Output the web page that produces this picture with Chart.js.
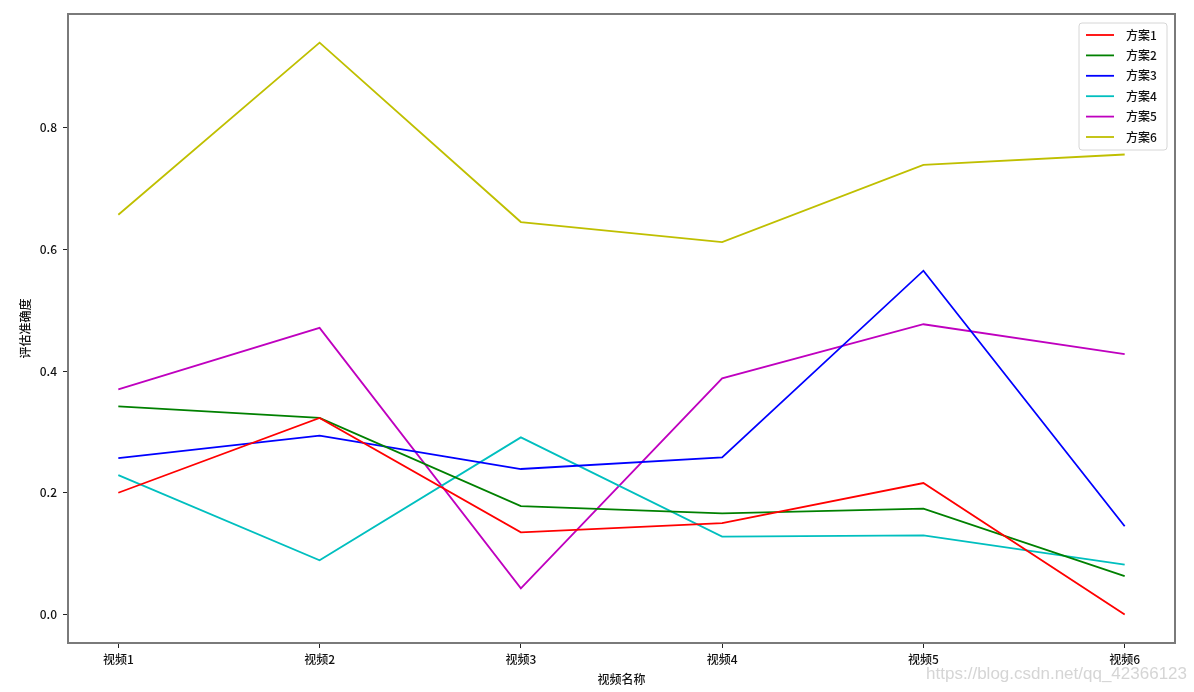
<!DOCTYPE html>
<html>
<head>
<meta charset="utf-8">
<script src="https://cdn.jsdelivr.net/npm/chart.js@4"></script>
<style>
  body { margin: 0; background: #fff; }
  canvas { display: block; }
</style>
</head>
<body>
<canvas id="accuracyChart" width="1194" height="692"></canvas>
<script>
const ctx = document.getElementById('accuracyChart');

const videoLabels = ["视频1", "视频2", "视频3", "视频4", "视频5", "视频6"]
const yTicks = [0.0, 0.2, 0.4, 0.6, 0.8]

const plan1 = [0.200, 0.323, 0.135, 0.150, 0.216, 0.000]
const plan2 = [0.342, 0.323, 0.178, 0.166, 0.174, 0.063]
const plan3 = [0.257, 0.294, 0.239, 0.258, 0.565, 0.145]
const plan4 = [0.229, 0.089, 0.291, 0.128, 0.130, 0.082]
const plan5 = [0.370, 0.471, 0.043, 0.388, 0.477, 0.428]
const plan6 = [0.657, 0.940, 0.645, 0.612, 0.739, 0.756]

const planNames = ["方案1", "方案2", "方案3", "方案4", "方案5", "方案6"]
const planValues = [plan1, plan2, plan3, plan4, plan5, plan6]
const planColors = ["#ff0000", "#008000", "#0000ff", "#00bfbf", "#bf00bf", "#bfbf00"]

const FONT = "'Noto Sans CJK SC', 'DejaVu Sans', sans-serif"

const datasets = planNames.map((name, i) => {return {
    label: name,
    borderColor: planColors[i],
    backgroundColor: planColors[i],
    borderWidth: 1.8,
    pointRadius: 0,
    tension: 0,
    data: planValues[i].map((v, j) => {return {x: j, y: v}})
}})

// gray frame round the plot + legend box in the upper right + watermark
const framePlugin = {
    id: 'frame',
    afterDraw(chart) {
        const c = chart.ctx
        const a = chart.chartArea
        c.save()
        c.strokeStyle = '#7a7a7a'
        c.lineWidth = 2
        c.strokeRect(a.left, a.top, a.right - a.left, a.bottom - a.top)

        // legend
        const boxR = a.right - 8, boxT = a.top + 9
        const boxW = 88, boxH = 127
        const boxL = boxR - boxW
        c.fillStyle = 'rgba(255,255,255,0.8)'
        c.strokeStyle = '#d6d6d6'
        c.lineWidth = 1
        c.beginPath()
        c.roundRect(boxL, boxT, boxW, boxH, 3)
        c.fill()
        c.stroke()
        c.font = '500 12px ' + FONT
        c.textBaseline = 'middle'
        chart.data.datasets.forEach((ds, i) => {
            const y = boxT + 12 + i * 20.4
            c.strokeStyle = ds.borderColor
            c.lineWidth = 1.8
            c.beginPath()
            c.moveTo(boxL + 7, y)
            c.lineTo(boxL + 35, y)
            c.stroke()
            c.fillStyle = '#111'
            c.fillText(ds.label, boxL + 47, y)
        })

        c.font = "17px 'Liberation Sans', Arial, sans-serif"
        c.fillStyle = 'rgba(195,195,195,0.7)'
        c.textAlign = 'right'
        c.textBaseline = 'middle'
        c.fillText('https://blog.csdn.net/qq_42366123', 1187, 674)
        c.restore()
    }
}

new Chart(ctx, {
    type: 'line',
    data: { datasets: datasets },
    plugins: [framePlugin],
    options: {
        responsive: false,
        animation: false,
        layout: { padding: { left: 0, right: 19, top: 14, bottom: 0 } },
        plugins: {
            legend: { display: false },
            tooltip: { enabled: false }
        },
        scales: {
            x: {
                type: 'linear',
                min: -0.25,
                max: 5.25,
                afterBuildTicks: (scale) => { scale.ticks = videoLabels.map((l, i) => ({value: i})) },
                afterFit: (scale) => { scale.height = 49 },
                grid: { drawOnChartArea: false, drawTicks: true, tickLength: 5, color: '#222' },
                border: { display: false },
                ticks: {
                    padding: 4,
                    color: '#111',
                    font: { family: FONT, size: 12, weight: '500' },
                    maxRotation: 0,
                    callback: (v) => videoLabels[v]
                },
                title: {
                    display: true,
                    text: '视频名称',
                    color: '#111',
                    font: { family: FONT, size: 12, weight: '500' },
                    padding: { top: 0, bottom: 5 }
                }
            },
            y: {
                min: -0.047,
                max: 0.987,
                afterBuildTicks: (scale) => { scale.ticks = yTicks.map(v => ({value: v})) },
                afterFit: (scale) => { scale.width = 68 },
                grid: { drawOnChartArea: false, drawTicks: true, tickLength: 5, color: '#222' },
                border: { display: false },
                ticks: {
                    padding: 6,
                    color: '#111',
                    font: { family: FONT, size: 12, weight: '500' },
                    callback: (v) => v.toFixed(1)
                },
                title: {
                    display: true,
                    text: '评估准确度',
                    color: '#111',
                    font: { family: FONT, size: 12, weight: '500' },
                    padding: { top: 18, bottom: 0 }
                }
            }
        }
    }
});
</script>
</body>
</html>
